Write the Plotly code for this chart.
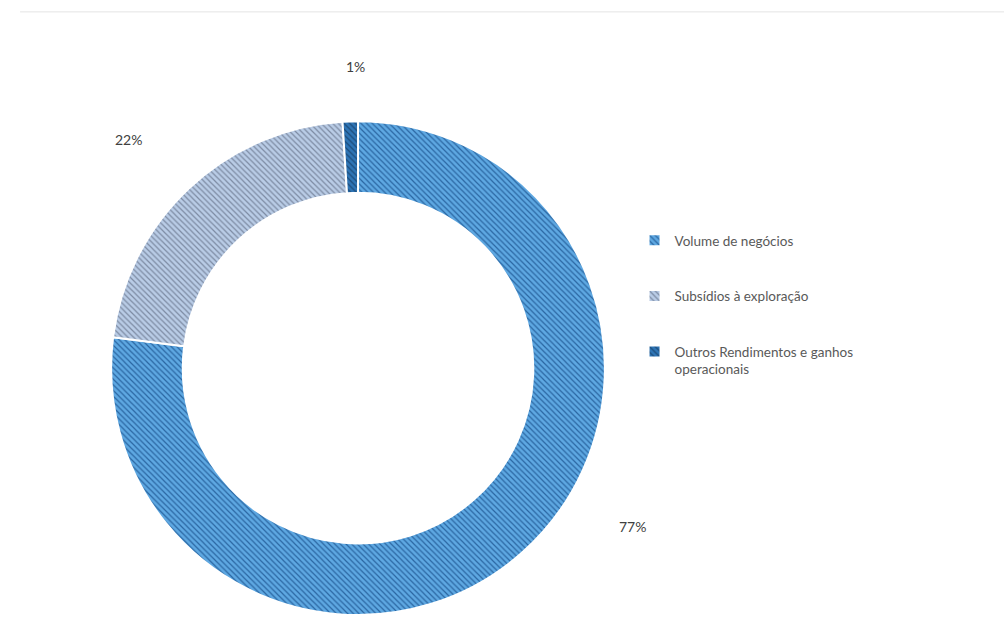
import plotly.graph_objects as go

# data
labels = ["Volume de negócios", "Subsídios à exploração", "Outros Rendimentos e ganhos operacionais"]
legend_names = ["Volume de negócios<br> <br> ", "Subsídios à exploração<br> <br> ", "Outros Rendimentos e ganhos<br>operacionais"]
values = [77, 22, 1]
colors = ["#5ea8e2", "#b9cce6", "#2e75b6"]
hatch = ["#2a66a2", "#7d8ba3", "#1b4a78"]
# where the percent labels sit (paper coords), same order as values
label_pos = [(0.6295, 0.157), (0.1275, 0.776), (0.3536, 0.893)]

fig = go.Figure()
fig.add_trace(go.Pie(
    labels=legend_names,
    values=values,
    hole=0.71,
    sort=False,
    direction="clockwise",
    rotation=0,
    textinfo="none",
    hovertext=labels,
    hoverinfo="text+percent",
    marker=dict(
        colors=colors,
        line=dict(color="white", width=2),
        pattern=dict(shape="\\", fgcolor=hatch, bgcolor=colors, size=4, solidity=0.3),
    ),
    domain=dict(x=[0.1096, 0.6036], y=[0.016, 0.806]),
))

# percent labels outside the ring
total = sum(values)
for v, (px_, py_) in zip(values, label_pos):
    fig.add_annotation(
        text=f"{round(100 * v / total)}%", x=px_, y=py_, xref="paper", yref="paper",
        xanchor="center", yanchor="middle",
        showarrow=False, font=dict(size=14, color="#404040"),
    )

fig.update_layout(
    width=1004, height=625,
    margin=dict(l=0, r=0, t=0, b=0),
    paper_bgcolor="white",
    font=dict(family="Lato, Liberation Sans, sans-serif", size=14, color="#595959"),
    legend=dict(x=0.632, y=0.64, xanchor="left", yanchor="top", valign="top",
                font=dict(size=13.5, color="#595959"), itemclick=False),
    shapes=[dict(type="line", xref="paper", yref="paper", x0=0.02, x1=1, y0=0.981, y1=0.981,
                 line=dict(color="#e4e4e4", width=1))],
)

fig.write_html("out.html", config={"displayModeBar": False},
               post_script="document.body.style.margin='0px';document.body.style.overflow='hidden';")
